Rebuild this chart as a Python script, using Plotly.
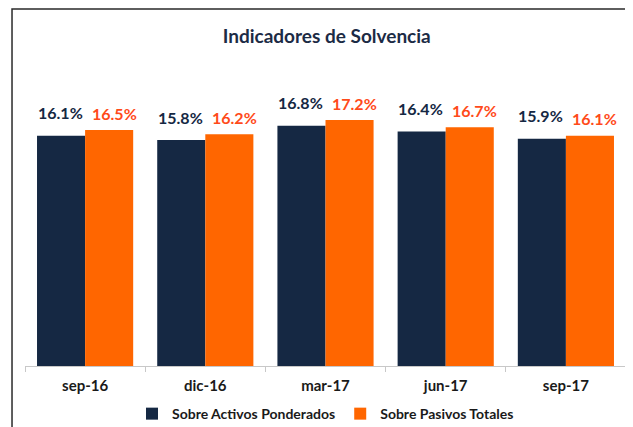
import plotly.graph_objects as go

categories = ["sep-16", "dic-16", "mar-17", "jun-17", "sep-17"]
activos = [16.1, 15.8, 16.8, 16.4, 15.9]
pasivos = [16.5, 16.2, 17.2, 16.7, 16.1]
series_names = ["Sobre Activos Ponderados", "Sobre Pasivos Totales"]

NAVY = "#152843"
ORANGE = "#FF6600"
ORANGE_TXT = "#FF4A1A"
FONT = "Lato"

# page body adds an 8px margin; figure is sized/placed to compensate
W, H = 625, 419

fig = go.Figure()
fig.add_trace(go.Bar(x=categories, y=activos, name="<b>" + series_names[0] + "</b>",
                     marker=dict(color=NAVY, line=dict(width=0))))
fig.add_trace(go.Bar(x=categories, y=pasivos, name="<b>" + series_names[1] + "</b>",
                     marker=dict(color=ORANGE, line=dict(width=0))))

annotations = []
for c, v in zip(categories, activos):
    annotations.append(dict(x=c, y=v, xref="x", yref="y", text=f"<b>{v:.1f}%</b>",
                            showarrow=False, xshift=-25, yshift=23,
                            font=dict(family=FONT, size=16, color=NAVY)))
for c, v in zip(categories, pasivos):
    annotations.append(dict(x=c, y=v, xref="x", yref="y", text=f"<b>{v:.1f}%</b>",
                            showarrow=False, xshift=29, yshift=17,
                            font=dict(family=FONT, size=16, color=ORANGE_TXT)))

fig.update_layout(
    width=W, height=H,
    margin=dict(l=17, r=7, t=72, b=61, autoexpand=False),
    paper_bgcolor="white", plot_bgcolor="white",
    barmode="group", bargap=0.2, bargroupgap=0,
    title=dict(text="<b>Indicadores de Solvencia</b>", x=0.51, xanchor="center",
               y=1 - 28 / H, yanchor="middle",
               font=dict(family=FONT, size=19, color="#1C2B45")),
    xaxis=dict(showline=True, linecolor="#C8C8C8", linewidth=1, automargin=False,
               ticks="outside", tickson="boundaries", ticklen=5, tickcolor="#C8C8C8",
               ticklabelstandoff=6,
               tickfont=dict(family=FONT, size=15, color="#1a1a1a"),
               tickprefix="<b>", ticksuffix="</b>"),
    yaxis=dict(range=[0, 20], visible=False, showgrid=False, automargin=False),
    legend=dict(orientation="h", x=0.5, xanchor="center", y=-0.168, yanchor="middle",
                font=dict(family=FONT, size=14, color="#1a1a1a"),
                itemwidth=30, traceorder="normal"),
    annotations=annotations,
    shapes=[dict(type="rect", xref="paper", yref="paper",
                 x0=-0.0216, x1=1.2, y0=-0.6, y1=1.248,
                 line=dict(color="#2a2a2a", width=1.5), fillcolor="rgba(0,0,0,0)",
                 layer="above")],
    showlegend=True,
)

fig.write_html("out.html")
